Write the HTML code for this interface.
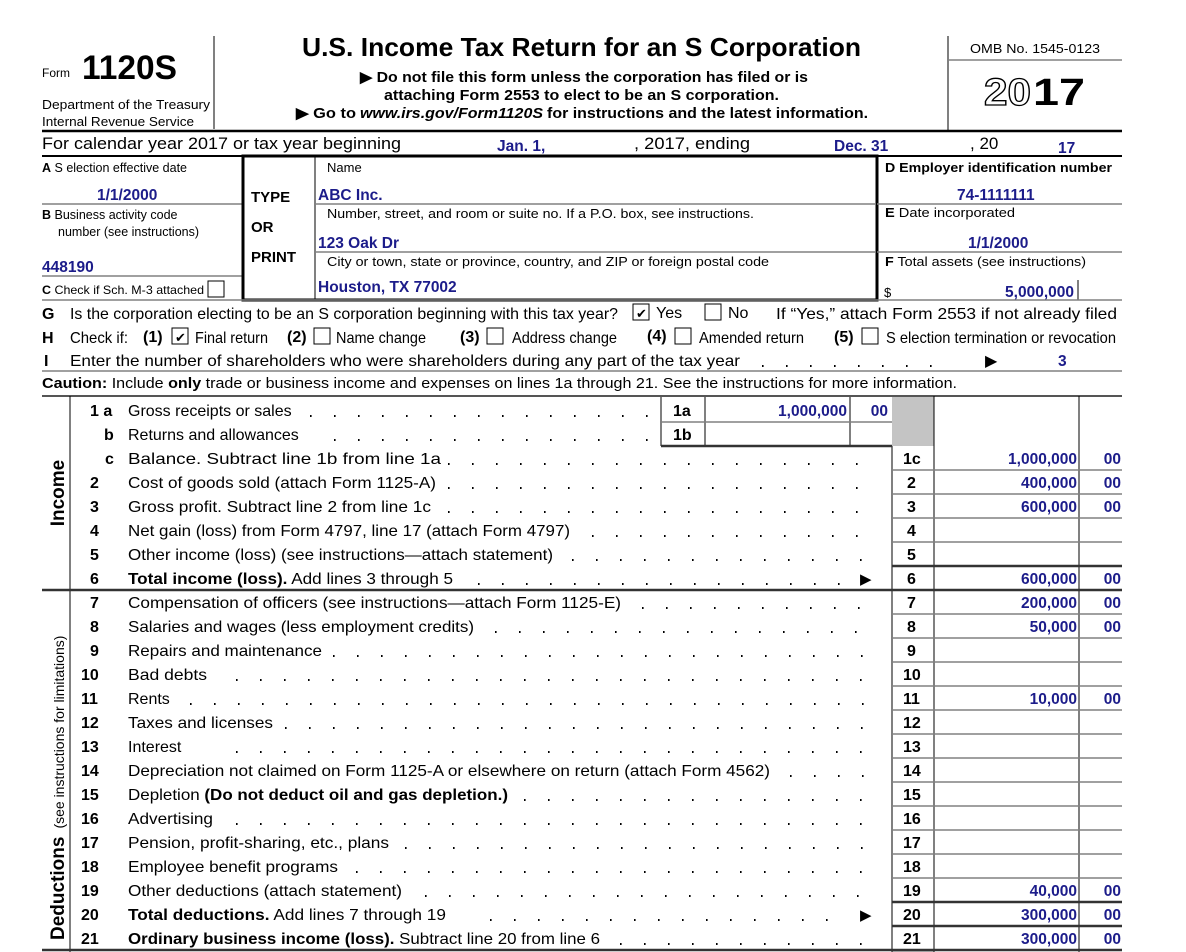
<!DOCTYPE html>
<html><head><meta charset="utf-8"><style>
html,body{margin:0;padding:0;background:#fff;}
svg{display:block;font-family:"Liberation Sans",Arial,sans-serif;}
.b{font-weight:bold}
.v{fill:#1c1c8a;font-weight:bold;font-size:15.5px}
.r{font-size:16px}
.n{font-size:16px;font-weight:bold}
.s{font-size:12.5px}
.g{stroke:#808080;stroke-width:1.5}
.k{stroke:#000;stroke-width:1}
.t{stroke:#333;stroke-width:2.5}
.d{stroke:#000;stroke-width:2;stroke-dasharray:1.6 22.4}
</style></head><body>
<svg width="1186" height="952" viewBox="0 0 1186 952" xmlns="http://www.w3.org/2000/svg">
<!-- header -->
<text x="42" y="77" font-size="12">Form</text>
<text x="82" y="79" font-size="34" class="b" textLength="95" lengthAdjust="spacingAndGlyphs">1120S</text>
<text x="42" y="109" class="s" textLength="168" lengthAdjust="spacingAndGlyphs">Department of the Treasury</text>
<text x="42" y="126" class="s" textLength="152" lengthAdjust="spacingAndGlyphs">Internal Revenue Service</text>
<line x1="214" y1="36" x2="214" y2="129" class="k" stroke-width="1.5"/>
<text x="302" y="56" font-size="26" class="b" textLength="559" lengthAdjust="spacingAndGlyphs">U.S. Income Tax Return for an S Corporation</text>
<text x="360" y="82" font-size="15" class="b" textLength="448" lengthAdjust="spacingAndGlyphs">▶ Do not file this form unless the corporation has filed or is</text>
<text x="384" y="100" font-size="15" class="b" textLength="395" lengthAdjust="spacingAndGlyphs">attaching Form 2553 to elect to be an S corporation.</text>
<text x="296" y="118" font-size="15" class="b" textLength="60" lengthAdjust="spacingAndGlyphs">▶ Go to</text>
<text x="360" y="118" font-size="15" class="b" font-style="italic" textLength="183" lengthAdjust="spacingAndGlyphs">www.irs.gov/Form1120S</text>
<text x="547" y="118" font-size="15" class="b" textLength="321" lengthAdjust="spacingAndGlyphs">for instructions and the latest information.</text>
<line x1="948" y1="36" x2="948" y2="130" class="k" stroke-width="1.5"/>
<text x="970" y="53" font-size="13" textLength="130" lengthAdjust="spacingAndGlyphs">OMB No. 1545-0123</text>
<line x1="948" y1="60" x2="1122" y2="60" class="g"/>
<text x="984" y="105" font-size="38" font-weight="bold" fill="#fff" stroke="#000" stroke-width="1.3" textLength="47" lengthAdjust="spacingAndGlyphs">20</text>
<text x="1033" y="105" font-size="38" class="b" textLength="52" lengthAdjust="spacingAndGlyphs">17</text>
<line x1="42" y1="131" x2="1122" y2="131" stroke="#000" stroke-width="2.5"/>
<!-- calendar row -->
<text x="42" y="149" font-size="17" textLength="359" lengthAdjust="spacingAndGlyphs">For calendar year 2017 or tax year beginning</text>
<text x="497" y="151" class="v">Jan. 1,</text>
<text x="634" y="149" font-size="17" textLength="116" lengthAdjust="spacingAndGlyphs">, 2017, ending</text>
<text x="834" y="151" class="v">Dec. 31</text>
<text x="970" y="149" font-size="17">, 20</text>
<text x="1058" y="153" class="v">17</text>
<line x1="42" y1="156" x2="1122" y2="156" stroke="#000" stroke-width="2"/>
<!-- A-F block -->
<text x="42" y="172" class="s"><tspan class="b">A</tspan> S election effective date</text>
<text x="97" y="200" class="v">1/1/2000</text>
<line x1="42" y1="204" x2="243" y2="204" class="g"/>
<text x="42" y="219" class="s"><tspan class="b">B</tspan> Business activity code</text>
<text x="58" y="236" class="s">number (see instructions)</text>
<text x="42" y="272" class="v">448190</text>
<line x1="42" y1="276" x2="243" y2="276" class="g"/>
<text x="42" y="294" font-size="12" textLength="162" lengthAdjust="spacingAndGlyphs"><tspan class="b">C</tspan> Check if Sch. M-3 attached</text>
<rect x="208" y="281" width="16" height="16" fill="none" stroke="#000"/>
<rect x="243" y="156" width="634" height="144" fill="none" stroke="#000" stroke-width="3"/>
<line x1="315" y1="157" x2="315" y2="299" class="k"/>
<text x="251" y="202" font-size="15" class="b">TYPE</text>
<text x="251" y="232" font-size="15" class="b">OR</text>
<text x="251" y="262" font-size="15" class="b">PRINT</text>
<text x="327" y="172" font-size="13">Name</text>
<text x="318" y="200" class="v">ABC Inc.</text>
<line x1="315" y1="204" x2="876" y2="204" class="g"/>
<text x="327" y="218" font-size="13" textLength="427" lengthAdjust="spacingAndGlyphs">Number, street, and room or suite no. If a P.O. box, see instructions.</text>
<text x="318" y="248" class="v">123 Oak Dr</text>
<line x1="315" y1="252" x2="876" y2="252" class="g"/>
<text x="327" y="266" font-size="13" textLength="442" lengthAdjust="spacingAndGlyphs">City or town, state or province, country, and ZIP or foreign postal code</text>
<text x="318" y="292" class="v">Houston, TX 77002</text>
<text x="885" y="172" font-size="13" class="b" textLength="227" lengthAdjust="spacingAndGlyphs">D Employer identification number</text>
<text x="957" y="200" class="v">74-1111111</text>
<line x1="877" y1="204" x2="1122" y2="204" class="g"/>
<text x="885" y="217" font-size="13" textLength="130" lengthAdjust="spacingAndGlyphs"><tspan class="b">E</tspan> Date incorporated</text>
<text x="968" y="248" class="v">1/1/2000</text>
<line x1="877" y1="252" x2="1122" y2="252" class="g"/>
<text x="885" y="266" font-size="13" textLength="201" lengthAdjust="spacingAndGlyphs"><tspan class="b">F</tspan> Total assets (see instructions)</text>
<text x="884" y="297" font-size="13">$</text>
<text x="1074" y="297" class="v" text-anchor="end">5,000,000</text>
<line x1="1078" y1="280" x2="1078" y2="300" class="k"/>
<line x1="42" y1="300" x2="1122" y2="300" class="g"/>
<!-- G H I -->
<g font-size="16">
<text x="42" y="319" class="b">G</text>
<text x="70" y="319" textLength="548" lengthAdjust="spacingAndGlyphs">Is the corporation electing to be an S corporation beginning with this tax year?</text>
<rect x="633" y="304" width="16" height="16" fill="none" stroke="#000"/><text x="636" y="318" font-size="13">✔</text>
<text x="656" y="318">Yes</text>
<rect x="705" y="304" width="16" height="16" fill="none" stroke="#000"/>
<text x="728" y="318">No</text>
<text x="776" y="319" textLength="341" lengthAdjust="spacingAndGlyphs">If “Yes,” attach Form 2553 if not already filed</text>
<text x="42" y="343" class="b">H</text>
<text x="70" y="343" textLength="58" lengthAdjust="spacingAndGlyphs">Check if:</text>
<text x="143" y="342" class="b">(1)</text>
<rect x="172" y="328" width="16" height="16" fill="none" stroke="#000"/><text x="175" y="342" font-size="13">✔</text>
<text x="195" y="343" textLength="73" lengthAdjust="spacingAndGlyphs">Final return</text>
<text x="287" y="342" class="b">(2)</text>
<rect x="314" y="328" width="16" height="16" fill="none" stroke="#000"/>
<text x="336" y="343" textLength="90" lengthAdjust="spacingAndGlyphs">Name change</text>
<text x="460" y="342" class="b">(3)</text>
<rect x="487" y="328" width="16" height="16" fill="none" stroke="#000"/>
<text x="512" y="343" textLength="105" lengthAdjust="spacingAndGlyphs">Address change</text>
<text x="647" y="341" class="b">(4)</text>
<rect x="675" y="328" width="16" height="16" fill="none" stroke="#000"/>
<text x="699" y="343" textLength="105" lengthAdjust="spacingAndGlyphs">Amended return</text>
<text x="834" y="342" class="b">(5)</text>
<rect x="862" y="328" width="16" height="16" fill="none" stroke="#000"/>
<text x="886" y="343" textLength="230" lengthAdjust="spacingAndGlyphs">S election termination or revocation</text>
<text x="44" y="366" class="b">I</text>
<text x="70" y="366" textLength="670" lengthAdjust="spacingAndGlyphs">Enter the number of shareholders who were shareholders during any part of the tax year</text>
<line x1="762" y1="366" x2="950" y2="366" class="d"/>
<text x="985" y="366">▶</text>
<text x="1058" y="366" class="v">3</text>
</g>
<line x1="42" y1="371" x2="1122" y2="371" class="g"/>
<text x="42" y="388" font-size="14.5" textLength="915" lengthAdjust="spacingAndGlyphs"><tspan class="b">Caution:</tspan> Include <tspan class="b">only</tspan> trade or business income and expenses on lines 1a through 21. See the instructions for more information.</text>
<line x1="42" y1="396" x2="1122" y2="396" stroke="#555" stroke-width="2"/>
<!-- grid -->
<line x1="70" y1="396" x2="70" y2="952" class="k"/>
<rect x="892" y="397" width="42" height="49" fill="#c4c4c4"/>
<rect x="892" y="951" width="42" height="2" fill="#c4c4c4"/>
<line x1="892" y1="446" x2="892" y2="952" class="k"/>
<line x1="934" y1="396" x2="934" y2="952" class="k"/>
<line x1="1079" y1="396" x2="1079" y2="952" class="k"/>
<line x1="661" y1="397" x2="661" y2="446" class="k"/>
<line x1="705" y1="397" x2="705" y2="446" class="k"/>
<line x1="850" y1="397" x2="850" y2="446" class="k"/>
<line x1="661" y1="422" x2="892" y2="422" class="g"/>
<line x1="661" y1="446" x2="892" y2="446" class="t"/>
<g class="g">
<line x1="892" y1="470" x2="1122" y2="470"/><line x1="892" y1="494" x2="1122" y2="494"/>
<line x1="892" y1="518" x2="1122" y2="518"/><line x1="892" y1="542" x2="1122" y2="542"/>
<line x1="892" y1="566" x2="1122" y2="566"/>
<line x1="892" y1="614" x2="1122" y2="614"/><line x1="892" y1="638" x2="1122" y2="638"/>
<line x1="892" y1="662" x2="1122" y2="662"/><line x1="892" y1="686" x2="1122" y2="686"/>
<line x1="892" y1="710" x2="1122" y2="710"/><line x1="892" y1="734" x2="1122" y2="734"/>
<line x1="892" y1="758" x2="1122" y2="758"/><line x1="892" y1="782" x2="1122" y2="782"/>
<line x1="892" y1="806" x2="1122" y2="806"/><line x1="892" y1="830" x2="1122" y2="830"/>
<line x1="892" y1="854" x2="1122" y2="854"/><line x1="892" y1="878" x2="1122" y2="878"/>
</g>
<line x1="892" y1="566" x2="1122" y2="566" class="t" stroke-width="2"/>
<line x1="42" y1="590" x2="1122" y2="590" class="t"/>
<line x1="892" y1="902" x2="1122" y2="902" class="t" stroke-width="2"/>
<line x1="892" y1="926" x2="1122" y2="926" class="t" stroke-width="2"/>
<line x1="42" y1="950" x2="1122" y2="950" class="t"/>
<!-- side labels -->
<text transform="translate(64,493) rotate(-90)" text-anchor="middle" font-size="19" class="b">Income</text>
<text transform="translate(64,940) rotate(-90)" font-size="19"><tspan class="b">Deductions</tspan><tspan font-size="14" dx="8">(see instructions for limitations)</tspan></text>
<!-- rows -->
<g>
<text x="90" y="416" class="n">1 a</text><text x="128" y="416" class="r">Gross receipts or sales</text><line x1="310" y1="416" x2="655" y2="416" class="d"/>
<text x="673" y="416" class="n">1a</text><text x="847" y="416" class="v" text-anchor="end">1,000,000</text><text x="888" y="416" class="v" text-anchor="end">00</text>
<text x="104" y="440" class="n">b</text><text x="128" y="440" class="r">Returns and allowances</text><line x1="334" y1="440" x2="655" y2="440" class="d"/>
<text x="673" y="440" class="n">1b</text>
<text x="105" y="464" class="n">c</text><text x="128" y="464" class="r" textLength="313" lengthAdjust="spacingAndGlyphs">Balance. Subtract line 1b from line 1a</text><line x1="448" y1="464" x2="870" y2="464" class="d"/>
<text x="903" y="464" class="n">1c</text><text x="1077" y="464" class="v" text-anchor="end">1,000,000</text><text x="1121" y="464" class="v" text-anchor="end">00</text>
<text x="90" y="488" class="n">2</text><text x="128" y="488" class="r" textLength="308" lengthAdjust="spacingAndGlyphs">Cost of goods sold (attach Form 1125-A)</text><line x1="448" y1="488" x2="870" y2="488" class="d"/>
<text x="907" y="488" class="n">2</text><text x="1077" y="488" class="v" text-anchor="end">400,000</text><text x="1121" y="488" class="v" text-anchor="end">00</text>
<text x="90" y="512" class="n">3</text><text x="128" y="512" class="r" textLength="303" lengthAdjust="spacingAndGlyphs">Gross profit. Subtract line 2 from line 1c</text><line x1="448" y1="512" x2="870" y2="512" class="d"/>
<text x="907" y="512" class="n">3</text><text x="1077" y="512" class="v" text-anchor="end">600,000</text><text x="1121" y="512" class="v" text-anchor="end">00</text>
<text x="90" y="536" class="n">4</text><text x="128" y="536" class="r" textLength="442" lengthAdjust="spacingAndGlyphs">Net gain (loss) from Form 4797, line 17 (attach Form 4797)</text><line x1="592" y1="536" x2="870" y2="536" class="d"/>
<text x="907" y="536" class="n">4</text>
<text x="90" y="560" class="n">5</text><text x="128" y="560" class="r" textLength="425" lengthAdjust="spacingAndGlyphs">Other income (loss) (see instructions—attach statement)</text><line x1="572" y1="560" x2="870" y2="560" class="d"/>
<text x="907" y="560" class="n">5</text>
<text x="90" y="584" class="n">6</text><text x="128" y="584" class="r" textLength="325" lengthAdjust="spacingAndGlyphs"><tspan class="b">Total income (loss).</tspan> Add lines 3 through 5</text><line x1="478" y1="584" x2="845" y2="584" class="d"/>
<text x="860" y="584" font-size="15">▶</text>
<text x="907" y="584" class="n">6</text><text x="1077" y="584" class="v" text-anchor="end">600,000</text><text x="1121" y="584" class="v" text-anchor="end">00</text>
<text x="90" y="608" class="n">7</text><text x="128" y="608" class="r" textLength="493" lengthAdjust="spacingAndGlyphs">Compensation of officers (see instructions—attach Form 1125-E)</text><line x1="642" y1="608" x2="870" y2="608" class="d"/>
<text x="907" y="608" class="n">7</text><text x="1077" y="608" class="v" text-anchor="end">200,000</text><text x="1121" y="608" class="v" text-anchor="end">00</text>
<text x="90" y="632" class="n">8</text><text x="128" y="632" class="r" textLength="346" lengthAdjust="spacingAndGlyphs">Salaries and wages (less employment credits)</text><line x1="495" y1="632" x2="870" y2="632" class="d"/>
<text x="907" y="632" class="n">8</text><text x="1077" y="632" class="v" text-anchor="end">50,000</text><text x="1121" y="632" class="v" text-anchor="end">00</text>
<text x="90" y="656" class="n">9</text><text x="128" y="656" class="r" textLength="194" lengthAdjust="spacingAndGlyphs">Repairs and maintenance</text><line x1="333" y1="656" x2="870" y2="656" class="d"/>
<text x="907" y="656" class="n">9</text>
<text x="81" y="680" class="n">10</text><text x="128" y="680" class="r" textLength="79" lengthAdjust="spacingAndGlyphs">Bad debts</text><line x1="236" y1="680" x2="870" y2="680" class="d"/>
<text x="903" y="680" class="n">10</text>
<text x="81" y="704" class="n">11</text><text x="128" y="704" class="r">Rents</text><line x1="190" y1="704" x2="870" y2="704" class="d"/>
<text x="903" y="704" class="n">11</text><text x="1077" y="704" class="v" text-anchor="end">10,000</text><text x="1121" y="704" class="v" text-anchor="end">00</text>
<text x="81" y="728" class="n">12</text><text x="128" y="728" class="r" textLength="145" lengthAdjust="spacingAndGlyphs">Taxes and licenses</text><line x1="285" y1="728" x2="870" y2="728" class="d"/>
<text x="903" y="728" class="n">12</text>
<text x="81" y="752" class="n">13</text><text x="128" y="752" class="r">Interest</text><line x1="236" y1="752" x2="870" y2="752" class="d"/>
<text x="903" y="752" class="n">13</text>
<text x="81" y="776" class="n">14</text><text x="128" y="776" class="r" textLength="642" lengthAdjust="spacingAndGlyphs">Depreciation not claimed on Form 1125-A or elsewhere on return (attach Form 4562)</text><line x1="790" y1="776" x2="870" y2="776" class="d"/>
<text x="903" y="776" class="n">14</text>
<text x="81" y="800" class="n">15</text><text x="128" y="800" class="r" textLength="380" lengthAdjust="spacingAndGlyphs">Depletion <tspan class="b">(Do not deduct oil and gas depletion.)</tspan></text><line x1="524" y1="800" x2="870" y2="800" class="d"/>
<text x="903" y="800" class="n">15</text>
<text x="81" y="824" class="n">16</text><text x="128" y="824" class="r" textLength="85" lengthAdjust="spacingAndGlyphs">Advertising</text><line x1="236" y1="824" x2="870" y2="824" class="d"/>
<text x="903" y="824" class="n">16</text>
<text x="81" y="848" class="n">17</text><text x="128" y="848" class="r" textLength="261" lengthAdjust="spacingAndGlyphs">Pension, profit-sharing, etc., plans</text><line x1="405" y1="848" x2="870" y2="848" class="d"/>
<text x="903" y="848" class="n">17</text>
<text x="81" y="872" class="n">18</text><text x="128" y="872" class="r" textLength="210" lengthAdjust="spacingAndGlyphs">Employee benefit programs</text><line x1="356" y1="872" x2="870" y2="872" class="d"/>
<text x="903" y="872" class="n">18</text>
<text x="81" y="896" class="n">19</text><text x="128" y="896" class="r" textLength="274" lengthAdjust="spacingAndGlyphs">Other deductions (attach statement)</text><line x1="425" y1="896" x2="870" y2="896" class="d"/>
<text x="903" y="896" class="n">19</text><text x="1077" y="896" class="v" text-anchor="end">40,000</text><text x="1121" y="896" class="v" text-anchor="end">00</text>
<text x="81" y="920" class="n">20</text><text x="128" y="920" class="r" textLength="318" lengthAdjust="spacingAndGlyphs"><tspan class="b">Total deductions.</tspan> Add lines 7 through 19</text><line x1="490" y1="920" x2="845" y2="920" class="d"/>
<text x="860" y="920" font-size="15">▶</text>
<text x="903" y="920" class="n">20</text><text x="1077" y="920" class="v" text-anchor="end">300,000</text><text x="1121" y="920" class="v" text-anchor="end">00</text>
<text x="81" y="944" class="n">21</text><text x="128" y="944" class="r" textLength="472" lengthAdjust="spacingAndGlyphs"><tspan class="b">Ordinary business income (loss).</tspan> Subtract line 20 from line 6</text><line x1="620" y1="944" x2="870" y2="944" class="d"/>
<text x="903" y="944" class="n">21</text><text x="1077" y="944" class="v" text-anchor="end">300,000</text><text x="1121" y="944" class="v" text-anchor="end">00</text>
</g>
</svg>
</body></html>
